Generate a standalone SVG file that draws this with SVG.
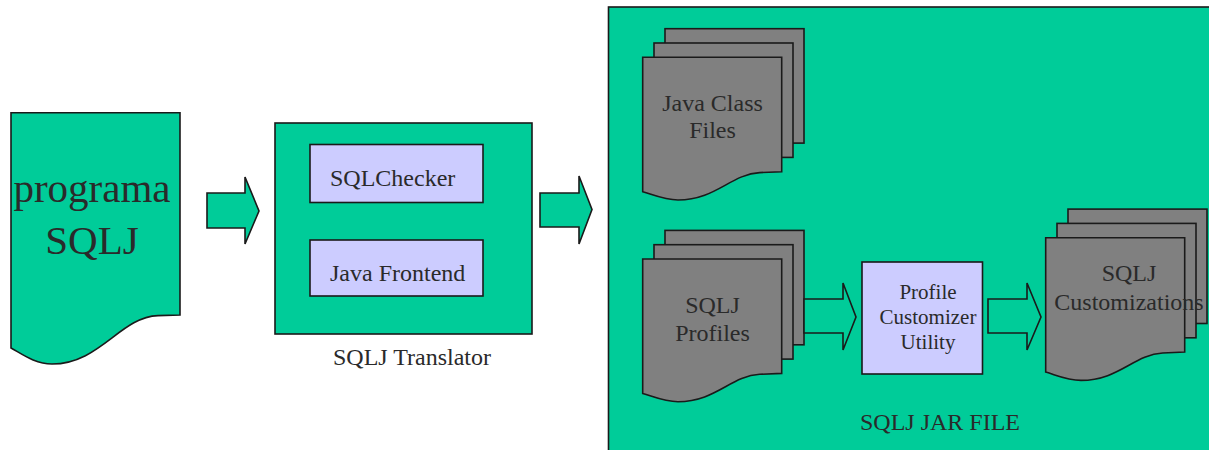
<svg xmlns="http://www.w3.org/2000/svg" xmlns:xlink="http://www.w3.org/1999/xlink" width="1209" height="450" viewBox="0 0 1209 450">
  <style>
    .green { fill: #00CC99; stroke: #1a1a1a; stroke-width: 1.6; }
    .lav { fill: #CCCCFF; stroke: #1a1a1a; stroke-width: 1.6; }
    .sheet { fill: #808080; stroke: #1a1a1a; stroke-width: 1.6; }
    .t { font-family: "Liberation Serif", "Times New Roman", serif; fill: #2a2a2a; font-size: 24px; }
    .big { font-size: 41px; }
    .sm { font-size: 21px; }
    .mid { text-anchor: middle; }
  </style>
  <defs>
    <g id="stack">
      <rect class="sheet" x="22.3" y="-28.6" width="139" height="114.4"/>
      <rect class="sheet" x="11.3" y="-14.3" width="139" height="114.4"/>
      <path class="sheet" d="M0,0 H139 V114.4 L117,115.3 C88,117 73,142.7 35.3,142.7 C22,142.7 12,138 0,134.4 Z"/>
    </g>
  </defs>
  <rect width="1209" height="450" fill="#ffffff"/>

  <g id="jar-file">
    <rect class="green" x="608.5" y="7" width="620" height="460" stroke-width="2"/>
    <text class="t" x="860" y="430">SQLJ JAR FILE</text>
  </g>

  <g id="programa-sqlj">
    <path class="green" d="M11,112.7 H180 V315 L158,315.6 C120,317 100,364 52,364 C35,364 22,354 11,348 Z"/>
    <text class="t big mid" x="92" y="202">programa</text>
    <text class="t big mid" x="92" y="254">SQLJ</text>
  </g>

  <g id="sqlj-translator">
    <rect class="green" x="275" y="123" width="257" height="211"/>
    <text class="t mid" x="412" y="365">SQLJ Translator</text>
  </g>

  <g id="sqlchecker">
    <rect class="lav" x="310" y="144.5" width="173" height="58"/>
    <text class="t" x="330" y="186">SQLChecker</text>
  </g>

  <g id="java-frontend">
    <rect class="lav" x="310" y="240" width="173" height="56"/>
    <text class="t" x="330" y="281">Java Frontend</text>
  </g>

  <g id="java-class-files">
    <use xlink:href="#stack" href="#stack" transform="translate(642.7,57.3)"/>
    <text class="t mid" x="712.5" y="111">Java Class</text>
    <text class="t mid" x="712.5" y="138">Files</text>
  </g>

  <g id="sqlj-profiles">
    <use xlink:href="#stack" href="#stack" transform="translate(642.7,259)"/>
    <text class="t mid" x="712.5" y="313">SQLJ</text>
    <text class="t mid" x="712.5" y="341">Profiles</text>
  </g>

  <g id="profile-customizer-utility">
    <rect class="lav" x="862" y="262" width="120.5" height="112"/>
    <text class="t sm mid" x="928" y="298.5">Profile</text>
    <text class="t sm mid" x="928" y="324">Customizer</text>
    <text class="t sm mid" x="928" y="348.5">Utility</text>
  </g>

  <g id="sqlj-customizations">
    <use xlink:href="#stack" href="#stack" transform="translate(1045.7,237.7)"/>
    <text class="t mid" x="1129" y="281">SQLJ</text>
    <text class="t mid" x="1129" y="310">Customizations</text>
  </g>

  <g id="connectors">
    <polygon class="green" points="207,193 245,193 245,177 259,211 245,244 245,228 207,228"/>
    <polygon class="green" points="540,193 579,193 579,176 592,209.5 579,244 579,227 540,227"/>
    <polygon class="green" points="804,299 843,299 843,283 856,317 843,350 843,333 804,333"/>
    <polygon class="green" points="988,299 1027,299 1027,283 1041,317 1027,350 1027,333 988,333"/>
  </g>
</svg>
